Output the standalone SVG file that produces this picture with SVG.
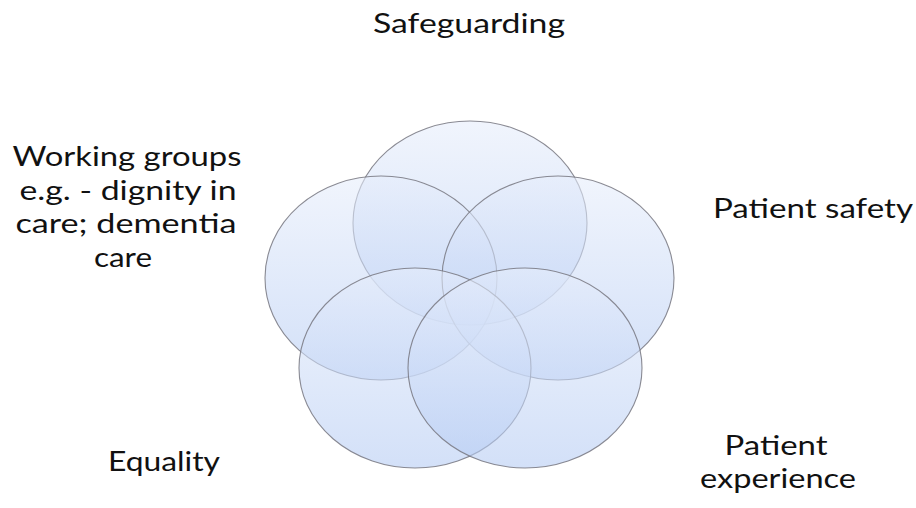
<svg xmlns="http://www.w3.org/2000/svg" width="916" height="508" viewBox="0 0 916 508">
  <defs>
    <linearGradient id="fillGrad" x1="0" y1="0" x2="0" y2="1">
      <stop offset="0" stop-color="#e6edfb"/>
      <stop offset="1" stop-color="#b3caf3"/>
    </linearGradient>
  </defs>
  <style>
    .ring { fill: url(#fillGrad); fill-opacity: 0.58; stroke: #777780; stroke-width: 1.1; stroke-opacity: 0.85; }
    .lbl { font-family: "Lato", "Open Sans", "Liberation Sans", sans-serif; font-size: 27px; fill: #111; text-anchor: middle; }
  </style>
  <rect width="916" height="508" fill="#ffffff"/>
  <g id="node-safeguarding">
    <ellipse class="ring" cx="470" cy="223" rx="117" ry="102"/>
    <text class="lbl" x="469" y="33" textLength="192" lengthAdjust="spacingAndGlyphs">Safeguarding</text>
  </g>
  <g id="node-working-groups">
    <ellipse class="ring" cx="381" cy="278" rx="116" ry="102"/>
    <text class="lbl" x="127" y="166" textLength="229" lengthAdjust="spacingAndGlyphs">Working groups</text>
    <text class="lbl" x="128" y="200" textLength="217" lengthAdjust="spacingAndGlyphs">e.g. - dignity in</text>
    <text class="lbl" x="126" y="233" textLength="221" lengthAdjust="spacingAndGlyphs">care; dementia</text>
    <text class="lbl" x="123" y="267" textLength="58" lengthAdjust="spacingAndGlyphs">care</text>
  </g>
  <g id="node-patient-safety">
    <ellipse class="ring" cx="558" cy="278" rx="116" ry="102"/>
    <text class="lbl" x="813" y="218" textLength="200" lengthAdjust="spacingAndGlyphs">Patient safety</text>
  </g>
  <g id="node-equality">
    <ellipse class="ring" cx="415" cy="368" rx="116" ry="100"/>
    <text class="lbl" x="164" y="471" textLength="112" lengthAdjust="spacingAndGlyphs">Equality</text>
  </g>
  <g id="node-patient-experience">
    <ellipse class="ring" cx="525" cy="368" rx="117" ry="100"/>
    <text class="lbl" x="776" y="455" textLength="103" lengthAdjust="spacingAndGlyphs">Patient</text>
    <text class="lbl" x="778" y="488" textLength="156" lengthAdjust="spacingAndGlyphs">experience</text>
  </g>
</svg>
